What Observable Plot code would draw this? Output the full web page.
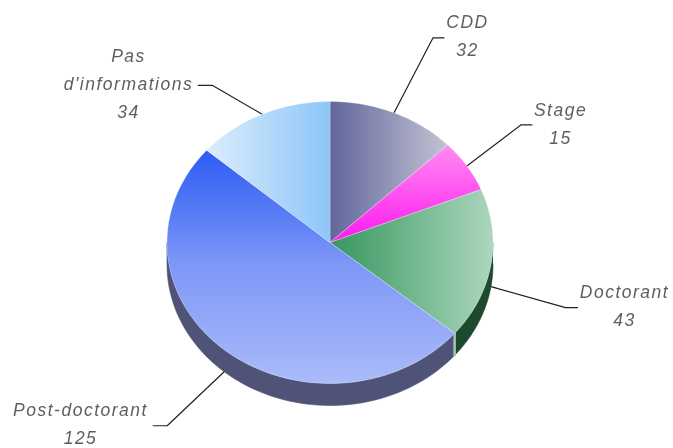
<!DOCTYPE html>
<html>
<head>
<meta charset="utf-8">
<script src="https://cdn.jsdelivr.net/npm/d3@7"></script>
<script src="https://cdn.jsdelivr.net/npm/@observablehq/plot@0.6"></script>
<style>html,body{margin:0;padding:0;background:#fff}</style>
</head>
<body>
<div id="chart"></div>
<script>
// Data, clockwise from twelve o'clock
const labels = ["CDD", "Stage", "Doctorant", "Post-doctorant", "Pas\nd'informations"];
const values = [32, 15, 43, 125, 34];

// Styles per slice
const gradientEnds = [
  {dir: "h", stops: ["#62669c", "#c2c3d2"]},
  {dir: "v", stops: ["#ff8cf2", "#ff18ee"]},
  {dir: "h", stops: ["#36975e", "#acd6bd"]},
  {dir: "v", stops: ["#2c5cf2", "#7f98f8", "#aabbf9"]},
  {dir: "h", stops: ["#dcecfd", "#8cc6f8"]}
];
const sideColors = [null, null, "#1d4a2c", "#4f5378", null];

// Layout, in frame units
const W = 673, H = 448;
const cx = 329.5, cy = 242, rx = 163, ry = 141, depth = 22;
const elbowOffsets = [[39, -75, 11], [54, -41, 11], [74.5, 21, 12], [-57, 54, -14], [-50, -29, -14]];
const labelX = [467, 560, 624, 80, 128];
const labelY = [33, 121, 303, 421, 81];

const total = d3.sum(values);
const cum = d3.cumsum(values);
const angle = v => v / total * 2 * Math.PI;
const rim = (a, dy = 0) => ({x: cx + rx * Math.sin(a), y: cy - ry * Math.cos(a) + dy});
const arcPoints = (a0, a1, dy = 0) => d3.range(0, 73).map(i => rim(a0 + (a1 - a0) * i / 72, dy));

const slices = values.map((v, i) => {
  const a0 = angle(cum[i] - v), a1 = angle(cum[i]);
  return {a0, a1, mid: (a0 + a1) / 2, i};
});

const faceMarks = slices.map(s => Plot.line(
  [{x: cx, y: cy}, ...arcPoints(s.a0, s.a1), {x: cx, y: cy}],
  {x: "x", y: "y", fill: `url(#slice${s.i})`, stroke: "#ffffff", strokeOpacity: 0.35, strokeWidth: 0.8}
));

const sideMarks = slices.filter(s => sideColors[s.i]).map(s => {
  const a0 = Math.max(s.a0, Math.PI / 2), a1 = Math.min(s.a1, 3 * Math.PI / 2);
  return Plot.line(
    [...arcPoints(a0, a1), ...arcPoints(a0, a1, depth).reverse()],
    {x: "x", y: "y", fill: sideColors[s.i], stroke: sideColors[s.i], strokeWidth: 0.6}
  );
});

const seam = [rim(slices[2].a1), rim(slices[2].a1, depth)];

const leaders = slices.map(s => {
  const visibleSide = Math.cos(s.mid) < 0 && sideColors[s.i];
  const start = rim(s.mid, visibleSide ? depth : 0);
  const [dx, dy, stub] = elbowOffsets[s.i];
  const elbow = {x: start.x + dx, y: start.y + dy};
  return [start, elbow, {x: elbow.x + stub, y: elbow.y}];
});

const defs = () => {
  const d = d3.create("svg:defs");
  gradientEnds.forEach((g, i) => {
    const lg = d.append("linearGradient").attr("id", `slice${i}`)
      .attr("x1", 0).attr("y1", 0)
      .attr("x2", g.dir === "h" ? 1 : 0).attr("y2", g.dir === "h" ? 0 : 1);
    g.stops.forEach((c, k) => lg.append("stop")
      .attr("offset", k / (g.stops.length - 1)).attr("stop-color", c));
  });
  return d.node();
};

const chart = Plot.plot({
  width: W, height: H,
  margin: 0,
  x: {domain: [0, W], axis: null},
  y: {domain: [0, H], range: [0, H], axis: null},
  style: {background: "#fff", filter: "blur(0.45px)", letterSpacing: "1.5px"},
  marks: [
    defs,
    ...leaders.map(p => Plot.line(p, {x: "x", y: "y", stroke: "#222", strokeWidth: 1.2})),
    ...sideMarks,
    Plot.line(seam, {x: "x", y: "y", stroke: "#a6c6b6", strokeWidth: 2.5}),
    ...faceMarks,
    Plot.text(labels.map((l, i) => ({l: `${l}\n${values[i]}`, x: labelX[i], y: labelY[i]})), {
      x: "x", y: "y", text: "l",
      fill: "#5f5f5f",
      fontFamily: "Liberation Sans",
      fontStyle: "italic",
      fontSize: 17.5,
      lineHeight: 1.6,
      textAnchor: "middle"
    })
  ]
});
document.getElementById("chart").appendChild(chart);
</script>
</body>
</html>
